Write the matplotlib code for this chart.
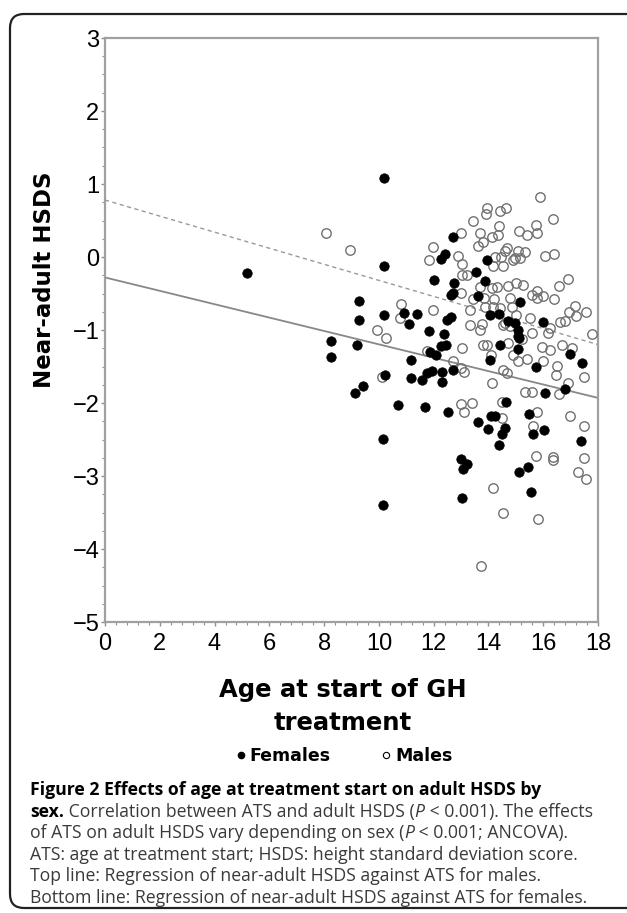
import matplotlib
matplotlib.use('Agg')
import matplotlib.pyplot as plt
from matplotlib.lines import Line2D
from matplotlib.patches import FancyBboxPatch
from matplotlib.text import Annotation
from matplotlib.ticker import MultipleLocator

# ---------------- data ----------------
female_x = [5.17, 10.18, 10.2, 12.0, 9.28, 9.28, 10.18, 10.91, 11.39, 11.1, 11.83, 8.25, 9.2, 8.25,
            11.86, 11.17, 10.22, 11.17, 11.57, 11.75, 11.93, 9.42, 9.12, 10.69, 11.68, 10.15, 10.15,
            12.69, 12.42, 12.28, 13.93, 13.54, 12.74, 13.88, 12.62, 12.71, 13.61, 15.17, 14.05, 14.37,
            12.47, 12.64, 14.73, 14.98, 16.0, 15.07, 15.07, 15.12, 12.39, 12.27, 12.45, 12.08, 14.42,
            15.07, 14.07, 16.97, 17.41, 15.75, 12.32, 12.69, 12.3, 16.8, 16.07, 14.64, 12.54, 14.1,
            14.25, 15.49, 13.61, 13.97, 14.61, 14.49, 14.39, 15.61, 16.04, 17.38, 13.0, 13.22, 13.08,
            15.1, 15.44, 15.56, 13.03]
female_y = [-0.22, 1.08, -0.13, -0.31, -0.6, -0.86, -0.79, -0.77, -0.78, -0.92, -1.01, -1.15, -1.2, -1.37,
            -1.3, -1.41, -1.62, -1.66, -1.68, -1.59, -1.56, -1.77, -1.86, -2.03, -2.05, -2.49, -3.4,
            0.28, 0.04, -0.03, -0.04, -0.21, -0.35, -0.33, -0.52, -0.49, -0.54, -0.61, -0.79, -0.78,
            -0.86, -0.82, -0.87, -0.91, -0.89, -1.0, -1.08, -1.11, -1.06, -1.22, -1.2, -1.34, -1.2,
            -1.26, -1.41, -1.33, -1.45, -1.5, -1.58, -1.55, -1.71, -1.81, -1.86, -1.98, -2.13, -2.18,
            -2.18, -2.15, -2.26, -2.36, -2.34, -2.43, -2.57, -2.43, -2.37, -2.52, -2.77, -2.83, -2.9,
            -2.95, -2.87, -3.22, -3.3]

male_x = [8.07, 8.94, 11.97, 11.83, 10.8, 11.97, 10.77, 9.93, 10.26, 11.75, 10.11,
          15.9, 13.93, 14.64, 14.42, 13.9, 16.35, 13.43, 15.73, 14.38, 13.69, 15.1, 15.39, 15.78,
          13.0, 14.12, 14.36, 13.8, 13.63, 14.66, 14.6, 15.07, 15.34, 15.17, 14.98, 16.05, 16.39,
          12.88, 14.25, 14.46, 13.03, 14.17, 14.54, 14.9, 13.03, 13.22, 16.92, 13.69, 14.12, 14.32,
          14.7, 15.02, 15.25, 15.78, 16.57, 13.0, 15.58, 15.77, 16.0, 13.44, 13.83, 14.2, 14.78,
          16.39, 17.16, 13.32, 13.88, 14.17, 14.42, 14.85, 15.02, 16.94, 17.21, 17.58, 15.51, 16.63,
          16.8, 13.32, 13.78, 14.54, 14.59, 14.78, 16.26, 16.19, 13.69, 15.58, 15.22, 17.77, 13.8,
          13.95, 14.71, 15.97, 16.24, 16.68, 17.04, 13.03, 14.88, 15.39, 15.07, 14.1, 16.0, 16.5,
          12.71, 13.0, 13.1, 14.66, 14.54, 17.5, 14.12, 16.92, 16.48, 15.58, 15.34, 16.56, 13.0,
          13.39, 13.12, 14.49, 14.49, 15.77, 15.61, 16.99, 17.48, 15.73, 16.34, 16.34, 17.5, 17.28,
          17.58, 14.15, 14.54, 15.8, 13.73]
male_y = [0.33, 0.1, 0.14, -0.04, -0.64, -0.73, -0.84, -1.0, -1.11, -1.29, -1.64,
          0.82, 0.67, 0.67, 0.63, 0.59, 0.52, 0.5, 0.44, 0.42, 0.33, 0.36, 0.3, 0.33,
          0.33, 0.28, 0.3, 0.21, 0.15, 0.12, 0.08, 0.08, 0.07, -0.01, -0.01, 0.01, 0.04,
          0.01, 0.0, 0.0, -0.09, -0.13, -0.12, -0.04, -0.24, -0.25, -0.3, -0.41, -0.42, -0.41,
          -0.4, -0.35, -0.38, -0.46, -0.4, -0.49, -0.52, -0.56, -0.54, -0.57, -0.56, -0.58, -0.56,
          -0.58, -0.67, -0.73, -0.69, -0.68, -0.7, -0.69, -0.79, -0.76, -0.81, -0.76, -0.84, -0.89,
          -0.88, -0.93, -0.92, -0.93, -0.9, -0.95, -0.97, -1.04, -1.0, -1.04, -1.12, -1.06, -1.21,
          -1.21, -1.18, -1.23, -1.27, -1.21, -1.25, -1.25, -1.34, -1.4, -1.43, -1.34, -1.42, -1.49,
          -1.43, -1.52, -1.57, -1.59, -1.55, -1.64, -1.72, -1.72, -1.62, -1.85, -1.85, -1.88, -2.02,
          -2.0, -2.12, -1.99, -2.2, -2.13, -2.31, -2.18, -2.31, -2.72, -2.74, -2.78, -2.75, -2.95,
          -3.04, -3.16, -3.51, -3.59, -4.23]

fit_x = [0, 18]
male_fit_y = [0.78, -1.20]
female_fit_y = [-0.28, -1.93]

x_ticks = [0, 2, 4, 6, 8, 10, 12, 14, 16, 18]
y_ticks = [-5, -4, -3, -2, -1, 0, 1, 2, 3]

x_label_lines = ["Age at start of GH", "treatment"]
y_label = "Near-adult HSDS"
legend_labels = ["Females", "Males"]

# ---------------- figure ----------------
W, H = 627, 913
fig = plt.figure(figsize=(W / 100, H / 100), dpi=100)


def fx(px):
    return px / W


def fy(py):
    return 1 - py / H


# rounded frame around figure
frame = FancyBboxPatch((0.10, 0.05), 7.0, 8.94, boxstyle="round,pad=0,rounding_size=0.14",
                       transform=fig.dpi_scale_trans, facecolor='none', edgecolor='#222222',
                       linewidth=1.6, clip_on=False)
fig.add_artist(frame)

ax = fig.add_axes([fx(105), fy(622), fx(598) - fx(105), fy(38) - fy(622)])

ax.plot(fit_x, male_fit_y, color='#999999', lw=1.0, ls=(0, (3, 2.5)), zorder=2)
ax.plot(fit_x, female_fit_y, color='#888888', lw=1.3, ls='-', zorder=2)

ax.plot(male_x, male_y, ls='none', marker='o', markersize=6.8, markerfacecolor='none',
        markeredgecolor='#707070', markeredgewidth=1.0, zorder=3)
ax.plot(female_x, female_y, ls='none', marker='o', markersize=6.8, markerfacecolor='black',
        markeredgecolor='black', markeredgewidth=0.5, zorder=4)

ax.set_xlim(0, 18)
ax.set_ylim(-5, 3)
ax.set_xticks(x_ticks)
ax.set_yticks(y_ticks)
ax.xaxis.set_minor_locator(MultipleLocator(0.4))
ax.yaxis.set_minor_locator(MultipleLocator(0.25))

for s in ax.spines.values():
    s.set_color('#a0a0a0')
    s.set_linewidth(1.6)

ax.tick_params(which='major', direction='out', length=3, width=1, color='#909090',
               labelsize=17, pad=1)
ax.tick_params(which='minor', direction='out', length=2, width=0.8, color='#909090')
for lab in ax.get_xticklabels() + ax.get_yticklabels():
    lab.set_fontfamily('Liberation Sans')
ax.tick_params(axis='x', pad=5)

# axis labels
fig.text(fx(45), fy(280), y_label, rotation=90, ha='center', va='center',
         fontsize=16.5, fontweight='bold', family='DejaVu Sans')
fig.text(fx(343), fy(690), x_label_lines[0], ha='center', va='center', fontsize=17.5,
         fontweight='bold', family='DejaVu Sans')
fig.text(fx(343), fy(723), x_label_lines[1], ha='center', va='center', fontsize=17.5,
         fontweight='bold', family='DejaVu Sans')

# legend
handles = [Line2D([], [], ls='none', marker='o', markersize=4.5, color='black'),
           Line2D([], [], ls='none', marker='o', markersize=4.5, markerfacecolor='white',
                  markeredgecolor='black', markeredgewidth=0.8)]
fig.legend(handles, legend_labels, loc='center', bbox_to_anchor=(fx(345), fy(756)), ncol=2,
           frameon=False, prop={'weight': 'bold', 'size': 12.5, 'family': 'DejaVu Sans'},
           handlelength=0.4, handletextpad=0.3, columnspacing=3.0)

# caption
cap_fs = 12.7
body = '#3a3a3a'
fam = 'Open Sans'
line_y = [790, 811.5, 833, 854.5, 876, 897.5]


def chain(prev, txt, **kw):
    ann = Annotation(txt, xy=(1, 0), xycoords=prev, ha='left', va='bottom',
                     fontsize=cap_fs, family=fam, **kw)
    fig.add_artist(ann)
    return ann


x0 = fx(30)
t = fig.text(x0, fy(line_y[0]), "Figure 2 Effects of age at treatment start on adult HSDS by",
             fontsize=cap_fs, family=fam, fontweight='bold', color='black', va='center')

t = fig.text(x0, fy(line_y[1]), "sex.", fontsize=cap_fs, family=fam, fontweight='bold',
             color='black', va='center')
t = chain(t, " Correlation between ATS and adult HSDS (", color=body)
t = chain(t, "P", color=body, style='italic')
t = chain(t, " < 0.001). The effects", color=body)

t = fig.text(x0, fy(line_y[2]), "of ATS on adult HSDS vary depending on sex (", fontsize=cap_fs,
             family=fam, color=body, va='center')
t = chain(t, "P", color=body, style='italic')
t = chain(t, " < 0.001; ANCOVA).", color=body)

fig.text(x0, fy(line_y[3]), "ATS: age at treatment start; HSDS: height standard deviation score.",
         fontsize=cap_fs, family=fam, color=body, va='center')
fig.text(x0, fy(line_y[4]), "Top line: Regression of near-adult HSDS against ATS for males.",
         fontsize=cap_fs, family=fam, color=body, va='center')
fig.text(x0, fy(line_y[5]), "Bottom line: Regression of near-adult HSDS against ATS for females.",
         fontsize=cap_fs, family=fam, color=body, va='center')

fig.savefig('out.png', dpi=100)
